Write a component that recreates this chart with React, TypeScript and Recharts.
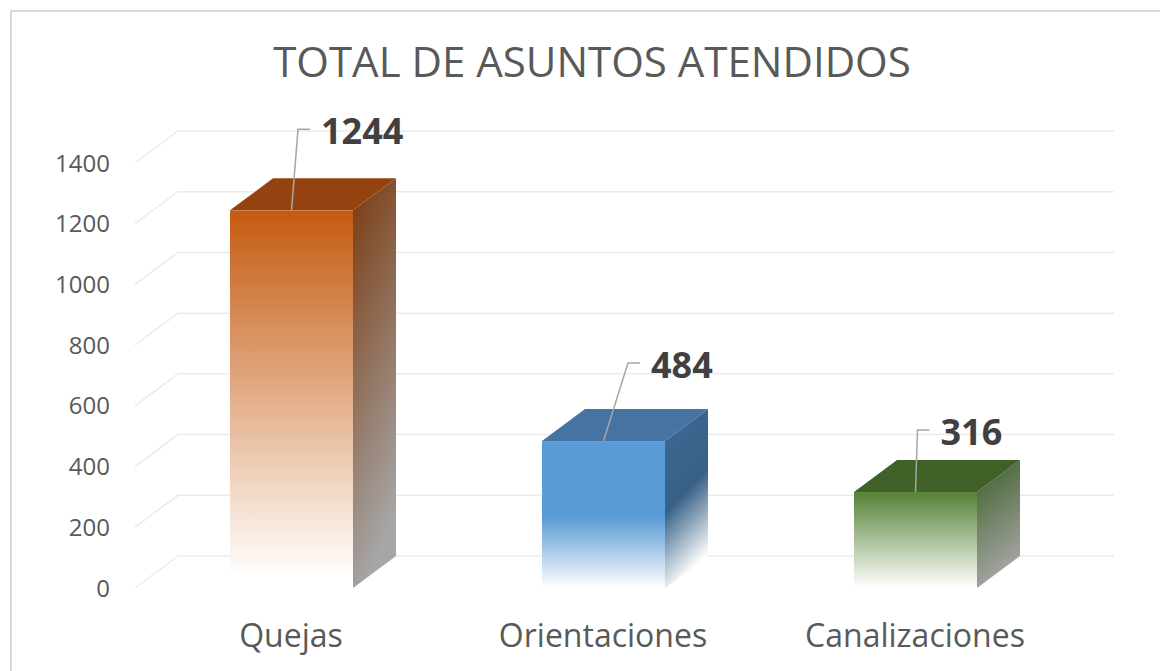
import React from "react";
import { BarChart, Bar, XAxis, YAxis, CartesianGrid, LabelList } from "recharts";

const categories = ["Quejas", "Orientaciones", "Canalizaciones"];
const totals = [1244, 484, 316];
const yTicks = [0, 200, 400, 600, 800, 1000, 1200, 1400];

const data = categories.map((name, i) => ({ name, total: totals[i] }));

// depth of the fake 3D extrusion
const DX = 43;
const DY = -32;

const faces = [
  {
    top: "#954211",
    front: [
      ["0", "#C55A11"],
      ["0.97", "#FFFFFF"],
    ],
    side: [
      ["0", "#7A390E"],
      ["1", "#A6A6A6"],
    ],
  },
  {
    top: "#4574A2",
    front: [
      ["0", "#5B9BD5"],
      ["0.52", "#5B9BD5"],
      ["1", "#FFFFFF"],
    ],
    side: [
      ["0", "#3E6994"],
      ["0.55", "#386187"],
      ["1", "#FFFFFF"],
    ],
  },
  {
    top: "#3F6128",
    front: [
      ["0", "#548235"],
      ["1", "#FFFFFF"],
    ],
    side: [
      ["0", "#3C5E25"],
      ["1", "#A6A6A6"],
    ],
  },
];

// leader line elbow, relative to the centre of the bar's front top edge
const labelOffsets = [
  { dx: 6.5, dy: -81 },
  { dx: 24.5, dy: -78 },
  { dx: 2, dy: -62 },
];

const FONT = "'Open Sans', sans-serif";

const Bar3D = (props: any) => {
  const { x, y, width, height, index } = props;
  const f = faces[index];
  const side = `${x + width},${y} ${x + width + DX},${y + DY} ${x + width + DX},${y + height + DY} ${x + width},${y + height}`;
  const top = `${x},${y} ${x + DX},${y + DY} ${x + width + DX},${y + DY} ${x + width},${y}`;
  return (
    <g>
      <defs>
        <linearGradient id={`front${index}`} x1="0" y1="0" x2="0" y2="1">
          {f.front.map(([o, c]) => (
            <stop key={o} offset={o} stopColor={c} />
          ))}
        </linearGradient>
        <linearGradient id={`side${index}`} x1="0" y1="0" x2="0.25" y2="1">
          {f.side.map(([o, c]) => (
            <stop key={o} offset={o} stopColor={c} />
          ))}
        </linearGradient>
      </defs>
      <polygon points={side} fill={`url(#side${index})`} />
      <polygon points={top} fill={f.top} />
      <rect x={x} y={y} width={width} height={height} fill={`url(#front${index})`} />
    </g>
  );
};

const DataLabel = (props: any) => {
  const { x, y, width, value, index } = props;
  const off = labelOffsets[index];
  const cx = x + width / 2;
  const ex = cx + off.dx;
  const ey = y + off.dy;
  return (
    <g>
      <polyline
        points={`${cx},${y} ${ex},${ey} ${ex + 12},${ey}`}
        fill="none"
        stroke="#A6A6A6"
        strokeWidth={1.5}
      />
      <text
        x={ex + 23}
        y={ey + 14.5}
        fontFamily={FONT}
        fontWeight={700}
        fontSize={36}
        fill="#404040"
      >
        {value}
      </text>
    </g>
  );
};

const gridLine = (p: any) => {
  const { x1, y1, x2 } = p;
  return (
    <polyline
      key={p.key ?? `g${y1}`}
      points={`${x1},${y1} ${x1 + DX},${y1 + DY} ${x2 + DX},${y1 + DY}`}
      fill="none"
      stroke="#EBEBEB"
      strokeWidth={1.5}
    />
  );
};

const YTick = (p: any) => (
  <text
    x={p.x}
    y={p.y}
    dy="0.36em"
    textAnchor="end"
    fontFamily={FONT}
    fontSize={24}
    fill="#595959"
  >
    {p.payload.value}
  </text>
);

const XTick = (p: any) => (
  <text
    x={p.x}
    y={p.y + 59}
    textAnchor="middle"
    fontFamily={FONT}
    fontSize={32}
    fill="#595959"
  >
    {p.payload.value}
  </text>
);

export default function App() {
  return (
    <div
      style={{
        position: "absolute",
        left: 0,
        top: 0,
        width: 1160,
        height: 671,
        overflow: "hidden",
        background: "#fff",
      }}
    >
      <div
        style={{
          position: "absolute",
          left: 10,
          top: 10,
          width: 1200,
          height: 700,
          border: "2px solid #D9D9D9",
        }}
      />
      <svg
        width={1160}
        height={100}
        style={{ position: "absolute", left: 0, top: 0 }}
      >
        <text
          x={592}
          y={77}
          textAnchor="middle"
          fontFamily={FONT}
          fontSize={42}
          fill="#595959"
        >
          TOTAL DE ASUNTOS ATENDIDOS
        </text>
      </svg>
      <div style={{ position: "absolute", left: 0, top: 0 }}>
        <BarChart
          width={1160}
          height={671}
          data={data}
          margin={{ top: 163, right: 89, bottom: 0, left: 0 }}
          barSize={123}
        >
          <CartesianGrid
            vertical={false}
            horizontal={gridLine}
            stroke="#EBEBEB"
          />
          <XAxis
            dataKey="name"
            axisLine={false}
            tickLine={false}
            tickSize={0}
            tickMargin={0}
            height={83}
            tick={XTick}
            interval={0}
          />
          <YAxis
            domain={[0, 1400]}
            ticks={yTicks}
            axisLine={false}
            tickLine={false}
            tickSize={0}
            tickMargin={25}
            width={135}
            tick={YTick}
            interval={0}
          />
          <Bar dataKey="total" shape={Bar3D} isAnimationActive={false}>
            <LabelList dataKey="total" content={DataLabel} />
          </Bar>
        </BarChart>
      </div>
    </div>
  );
}
